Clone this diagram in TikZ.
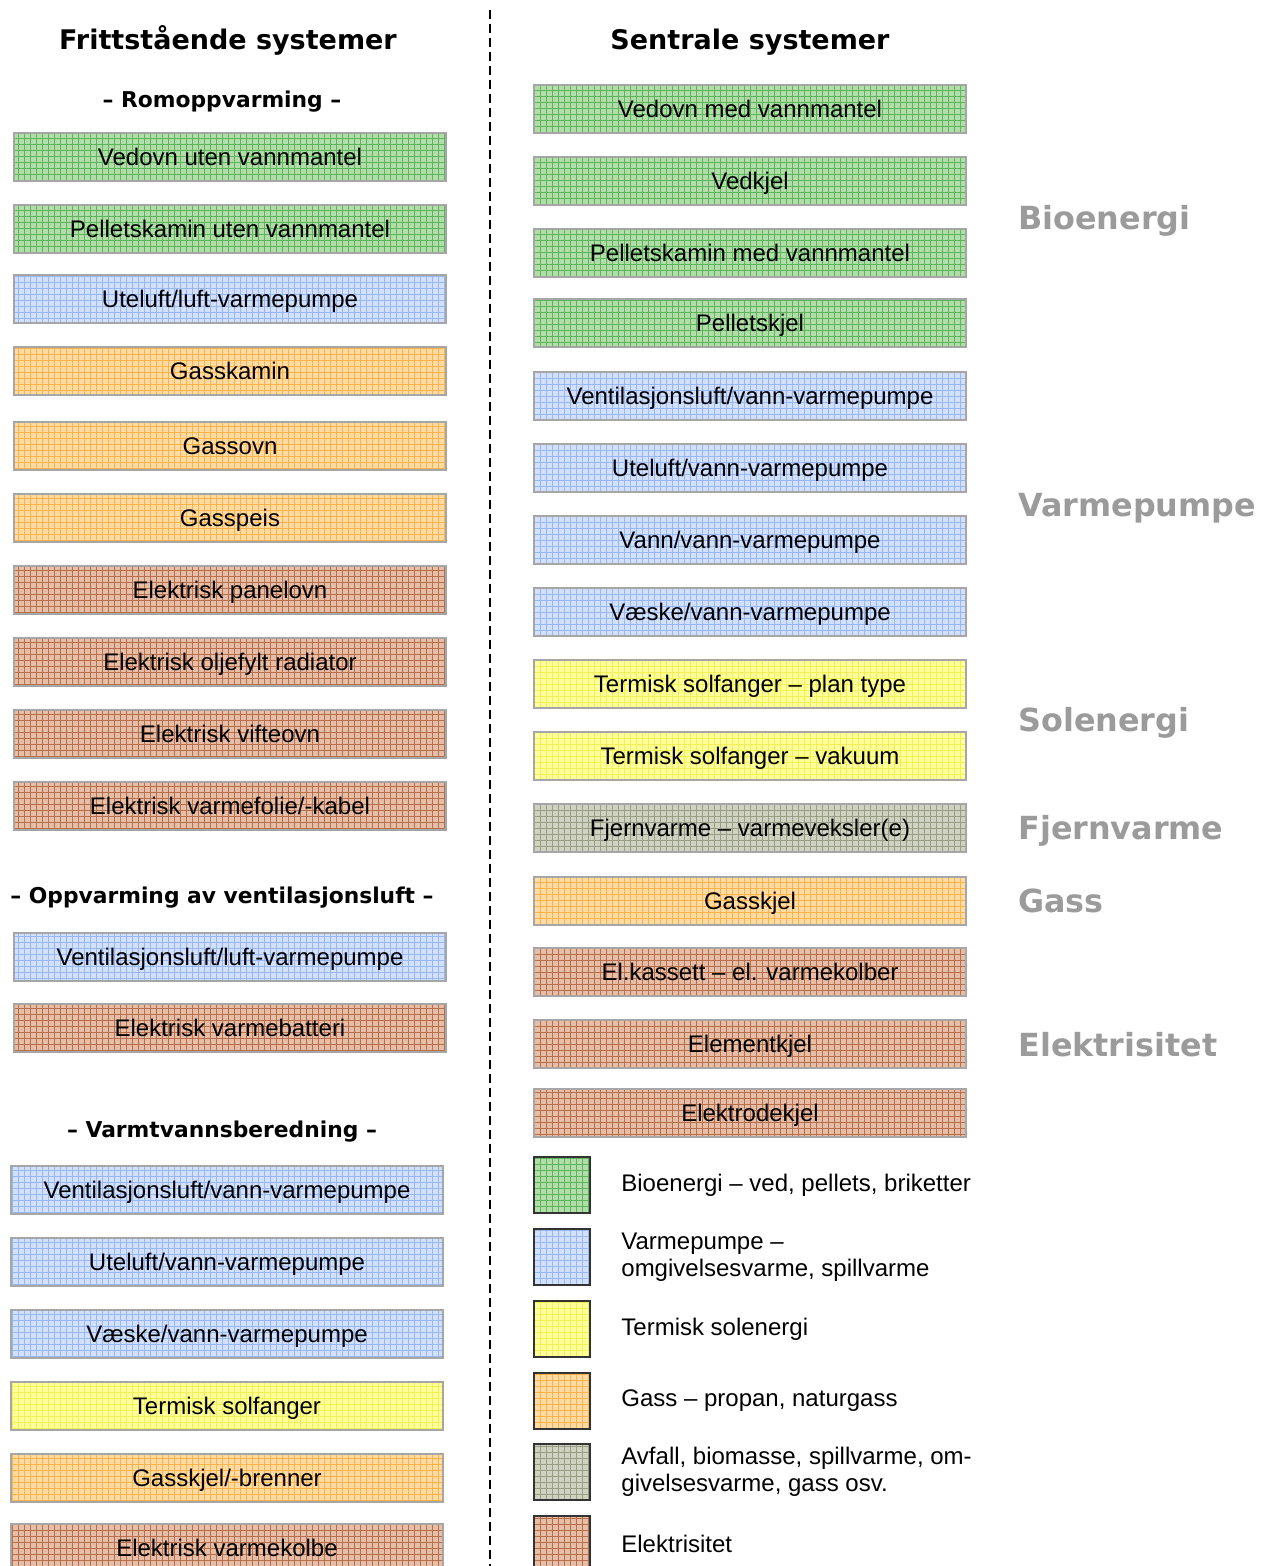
\documentclass[tikz,border=0pt]{standalone}
\usepackage{fontspec}
\setmainfont{Liberation Sans}
\newfontfamily\headfont{DejaVu Sans}
\usepackage{tikz}
\usetikzlibrary{positioning,patterns}
\usepackage{xcolor}
\definecolor{biogreen}{HTML}{B2DDA8}
\definecolor{biogrid}{HTML}{5DB65D}
\definecolor{hpblue}{HTML}{D2E0FB}
\definecolor{hpgrid}{HTML}{98B8F4}
\definecolor{solyellow}{HTML}{FFFF9C}
\definecolor{solgrid}{HTML}{F2F052}
\definecolor{gasorange}{HTML}{FFDCA6}
\definecolor{gasgrid}{HTML}{FFB347}
\definecolor{dhgray}{HTML}{CFD2C0}
\definecolor{dhgrid}{HTML}{979E84}
\definecolor{elbrown}{HTML}{E6BEA8}
\definecolor{elgrid}{HTML}{B8704C}
\definecolor{boxborder}{HTML}{A6A6A6}
\definecolor{catgray}{HTML}{9B9B9B}

\begin{document}
\begin{tikzpicture}[
    x=0.5pt, y=-0.5pt,
    box/.style={draw=boxborder, line width=0.8pt, minimum width=216pt, minimum height=24pt,
                inner sep=0pt, align=center, text height=8.6pt, text depth=0pt,
                font=\fontsize{12}{13.5}\selectfont},
    legsq/.style={draw=black!80, line width=1pt, minimum width=28pt, minimum height=28pt, inner sep=0pt},
    legtext/.style={anchor=west, align=left, inner sep=0pt, font=\fontsize{12}{13.5}\selectfont},
    biofill/.style={preaction={fill=biogreen}, preaction={pattern=grid, pattern color=biogrid}},
    hpfill/.style={preaction={fill=hpblue}, preaction={pattern=grid, pattern color=hpgrid}},
    solfill/.style={preaction={fill=solyellow}, preaction={pattern=grid, pattern color=solgrid}},
    gasfill/.style={preaction={fill=gasorange}, preaction={pattern=grid, pattern color=gasgrid}},
    dhfill/.style={preaction={fill=dhgray}, preaction={pattern=grid, pattern color=dhgrid}},
    elfill/.style={preaction={fill=elbrown}, preaction={pattern=grid, pattern color=elgrid}},
    title/.style={font=\headfont\bfseries\fontsize{13.5}{16}\selectfont, inner sep=0pt,
                  text height=9.8pt, text depth=0pt},
    subtitle/.style={font=\headfont\bfseries\fontsize{10.9}{12}\selectfont, inner sep=0pt,
                     text height=7.9pt, text depth=0pt},
    category/.style={anchor=west, text=catgray, font=\headfont\bfseries\fontsize{15.9}{18}\selectfont,
                     inner sep=0pt, text height=11.6pt, text depth=0pt}
]

\fill[white] (0,0) rectangle (1272,1566);
\useasboundingbox (0,0) rectangle (1272,1566);

% ---- Divider ----
\coordinate (divtop) at (490,10);
\coordinate (divbot) at (490,1570);
\draw[line width=1pt, dash pattern=on 4.5pt off 2.5pt] (divtop) -- (divbot);

% ---- Headings ----
\node[title] (freeHead) at (228,40) {Frittstående systemer};
\node[title] (centralHead) at (750,40) {Sentrale systemer};
\node[subtitle] (roomHead) at (222,100) {– Romoppvarming –};
\node[subtitle] (ventHead) at (222,896) {– Oppvarming av ventilasjonsluft –};
\node[subtitle] (waterHead) at (222,1130) {– Varmtvannsberedning –};

% ---- Frittstående: romoppvarming ----
\node[box, biofill] (fVedovn) at (230,157) {Vedovn uten vannmantel};
\node[box, biofill] (fPellet) at (230,229) {Pelletskamin uten vannmantel};
\node[box, hpfill] (fLuftLuft) at (230,299) {Uteluft/luft-varmepumpe};
\node[box, gasfill] (fGasskamin) at (230,371) {Gasskamin};
\node[box, gasfill] (fGassovn) at (230,446) {Gassovn};
\node[box, gasfill] (fGasspeis) at (230,518) {Gasspeis};
\node[box, elfill] (fPanelovn) at (230,590) {Elektrisk panelovn};
\node[box, elfill] (fOljefylt) at (230,662) {Elektrisk oljefylt radiator};
\node[box, elfill] (fVifteovn) at (230,734) {Elektrisk vifteovn};
\node[box, elfill] (fFolie) at (230,806) {Elektrisk varmefolie/-kabel};

% ---- Frittstående: ventilasjonsluft ----
\node[box, hpfill] (fVentLuft) at (230,957) {Ventilasjonsluft/luft-varmepumpe};
\node[box, elfill] (fBatteri) at (230,1028) {Elektrisk varmebatteri};

% ---- Frittstående: varmtvann ----
\node[box, hpfill] (wVentVann) at (227,1190) {Ventilasjonsluft/vann-varmepumpe};
\node[box, hpfill] (wUteVann) at (227,1262) {Uteluft/vann-varmepumpe};
\node[box, hpfill] (wVaeske) at (227,1334) {Væske/vann-varmepumpe};
\node[box, solfill] (wSol) at (227,1406) {Termisk solfanger};
\node[box, gasfill] (wGass) at (227,1478) {Gasskjel/-brenner};
\node[box, elfill] (wKolbe) at (227,1548) {Elektrisk varmekolbe};

% ---- Sentrale systemer ----
\node[box, biofill] (cVedovn) at (750,109) {Vedovn med vannmantel};
\node[box, biofill] (cVedkjel) at (750,181) {Vedkjel};
\node[box, biofill] (cPellet) at (750,253) {Pelletskamin med vannmantel};
\node[box, biofill] (cPelletkjel) at (750,323) {Pelletskjel};
\node[box, hpfill] (cVentVann) at (750,396) {Ventilasjonsluft/vann-varmepumpe};
\node[box, hpfill] (cUteVann) at (750,468) {Uteluft/vann-varmepumpe};
\node[box, hpfill] (cVannVann) at (750,540) {Vann/vann-varmepumpe};
\node[box, hpfill] (cVaeske) at (750,612) {Væske/vann-varmepumpe};
\node[box, solfill] (cSolPlan) at (750,684) {Termisk solfanger – plan type};
\node[box, solfill] (cSolVak) at (750,756) {Termisk solfanger – vakuum};
\node[box, dhfill] (cFjern) at (750,828) {Fjernvarme – varmeveksler(e)};
\node[box, gasfill] (cGass) at (750,901) {Gasskjel};
\node[box, elfill] (cKassett) at (750,972) {El.kassett – el. varmekolber};
\node[box, elfill] (cElement) at (750,1044) {Elementkjel};
\node[box, elfill] (cElektrode) at (750,1113) {Elektrodekjel};

% ---- Category labels ----
\node[category] (catBio) at (1018,218) {Bioenergi};
\node[category] (catHp) at (1018,505) {Varmepumpe};
\node[category] (catSol) at (1018,720) {Solenergi};
\node[category] (catDh) at (1018,828) {Fjernvarme};
\node[category] (catGas) at (1018,901) {Gass};
\node[category] (catEl) at (1018,1045) {Elektrisitet};

% ---- Legend ----
\node[legsq, biofill] (legBio) at (562,1185) {};
\node[legsq, hpfill] (legHp) at (562,1257) {};
\node[legsq, solfill] (legSol) at (562,1329) {};
\node[legsq, gasfill] (legGas) at (562,1401) {};
\node[legsq, dhfill] (legDh) at (562,1472) {};
\node[legsq, elfill] (legEl) at (562,1544) {};

\node[legtext, right=15pt of legBio] (txtBio) {Bioenergi – ved, pellets, briketter};
\node[legtext, right=15pt of legHp] (txtHp) {Varmepumpe –\\omgivelsesvarme, spillvarme};
\node[legtext, right=15pt of legSol] (txtSol) {Termisk solenergi};
\node[legtext, right=15pt of legGas] (txtGas) {Gass – propan, naturgass};
\node[legtext, right=15pt of legDh] (txtDh) {Avfall, biomasse, spillvarme, om-\\givelsesvarme, gass osv.};
\node[legtext, right=15pt of legEl] (txtEl) {Elektrisitet};

\end{tikzpicture}
\end{document}
